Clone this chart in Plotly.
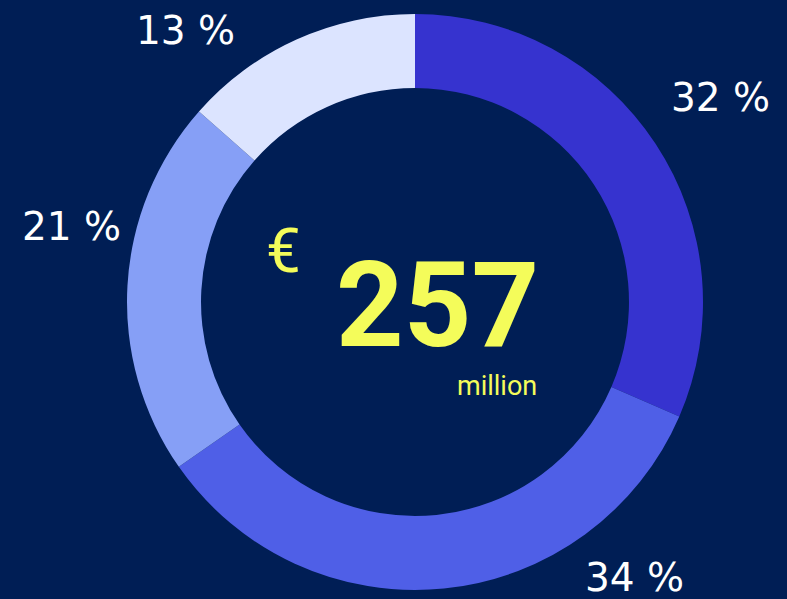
import plotly.graph_objects as go

# Data
segments = ["Segment A", "Segment B", "Segment C", "Segment D"]
shares = [31.5, 33.8, 21.2, 13.5]
share_labels = ["32 %", "34 %", "21 %", "13 %"]
colors = ["#3633CF", "#4F5FE7", "#869FF6", "#DCE4FF"]
total_value = "257"
currency = "€"
unit = "million"

W, H = 787, 599
BG = "#001E55"
YELLOW = "#F4FC5A"

cx, cy, R = 415, 302, 288

fig = go.Figure(go.Pie(
    labels=segments,
    values=shares,
    hole=0.743,
    sort=False,
    direction="clockwise",
    rotation=0,
    textinfo="none",
    hoverinfo="label+percent",
    marker=dict(colors=colors, line=dict(width=0)),
    domain=dict(x=[(cx - R) / W, (cx + R) / W], y=[(H - cy - R) / H, (H - cy + R) / H]),
    showlegend=False,
))

label_pos = [(720, 97), (634, 577), (71, 226), (185, 30)]
ann = []
for (x, y), t in zip(label_pos, share_labels):
    ann.append(dict(x=x / W, y=1 - y / H, xref="paper", yref="paper", text=t, showarrow=False,
                    xanchor="center", yanchor="middle",
                    font=dict(family="DejaVu Sans", size=39, color="#FFFFFF")))

ann.append(dict(x=283 / W, y=1 - 250 / H, xref="paper", yref="paper", text=currency, showarrow=False,
                xanchor="center", yanchor="middle",
                font=dict(family="Roboto", size=62, color=YELLOW)))
ann.append(dict(x=437 / W, y=1 - 306 / H, xref="paper", yref="paper", text="<b>" + total_value + "</b>",
                showarrow=False, xanchor="center", yanchor="middle", height=104, valign="middle",
                font=dict(family="Roboto", size=118, color=YELLOW)))
ann.append(dict(x=497 / W, y=1 - 386 / H, xref="paper", yref="paper", text=unit, showarrow=False,
                xanchor="center", yanchor="middle",
                font=dict(family="Roboto", size=27, color=YELLOW)))

fig.update_layout(
    width=W, height=H,
    margin=dict(l=0, r=0, t=0, b=0),
    paper_bgcolor=BG, plot_bgcolor=BG,
    annotations=ann,
)

fig.write_html(
    "out.html",
    config={"displayModeBar": False},
    post_script="document.body.style.margin='0';document.body.style.background='#001E55';document.body.style.overflow='hidden';",
)
